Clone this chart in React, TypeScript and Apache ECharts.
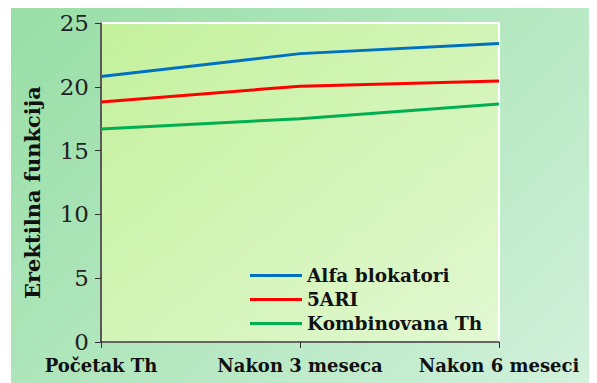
import React, { useEffect, useRef } from "react";
import * as echarts from "echarts";

const categories = ["Početak Th", "Nakon 3 meseca", "Nakon 6 meseci"];
const alfaBlokatori = [20.8, 22.6, 23.4];
const ari5 = [18.8, 20.05, 20.45];
const kombinovana = [16.7, 17.5, 18.65];
const yTicks = [0, 5, 10, 15, 20, 25];

const FONT = "'DejaVu Serif', 'Liberation Serif', serif";

export default function App() {
  const ref = useRef<HTMLDivElement>(null);
  useEffect(() => {
    if (!ref.current) return;
    const chart = echarts.init(ref.current, undefined, { renderer: "svg" });
    chart.setOption({
      animation: false,
      grid: {
        left: 90,
        right: 98,
        top: 15,
        bottom: 41,
        show: true,
        backgroundColor: new echarts.graphic.LinearGradient(0, 0, 1, 1, [
          { offset: 0, color: "#c4f19c" },
          { offset: 1, color: "#e2f8d2" },
        ]),
        borderColor: "#ffffff",
        borderWidth: 2,
      },
      legend: {
        orient: "vertical",
        left: 234,
        top: 253,
        itemWidth: 52,
        itemHeight: 3,
        itemGap: 5,
        icon: "rect",
        textStyle: { fontFamily: FONT, fontWeight: "bold", fontSize: 18.5, color: "#111" },
        data: ["Alfa blokatori", "5ARI", "Kombinovana Th"],
      },
      xAxis: {
        type: "category",
        data: categories,
        boundaryGap: false,
        axisLine: { lineStyle: { color: "#333", width: 1.5 } },
        axisTick: { show: true, length: 6, interval: 0, lineStyle: { color: "#333" } },
        axisLabel: {
          interval: 0,
          hideOverlap: false,
          margin: 14,
          fontFamily: FONT,
          fontWeight: "bold",
          fontSize: 18,
          color: "#111",
        },
        splitLine: { show: false },
      },
      yAxis: {
        type: "value",
        min: yTicks[0],
        max: yTicks[yTicks.length - 1],
        interval: 5,
        name: "Erektilna funkcija",
        nameLocation: "middle",
        nameGap: 58,
        nameTextStyle: {
          fontFamily: FONT,
          fontWeight: "bold",
          fontSize: 21,
          color: "#111",
          padding: [0, 20, 0, 0],
        },
        axisLine: { show: true, lineStyle: { color: "#222", width: 1.5 } },
        axisTick: { show: true, length: 6, lineStyle: { color: "#333" } },
        axisLabel: { margin: 12, fontFamily: FONT, fontSize: 23, color: "#222" },
        splitLine: { show: false },
      },
      series: [
        {
          name: "Alfa blokatori",
          type: "line",
          data: alfaBlokatori,
          symbol: "none",
          lineStyle: { color: "#0070c0", width: 3 },
          itemStyle: { color: "#0070c0" },
        },
        {
          name: "5ARI",
          type: "line",
          data: ari5,
          symbol: "none",
          lineStyle: { color: "#ff0000", width: 3 },
          itemStyle: { color: "#ff0000" },
        },
        {
          name: "Kombinovana Th",
          type: "line",
          data: kombinovana,
          symbol: "none",
          lineStyle: { color: "#00b050", width: 3 },
          itemStyle: { color: "#00b050" },
        },
      ],
    });
    return () => chart.dispose();
  }, []);
  return (
    <div style={{ paddingLeft: 3, width: 586 }}>
      <div
        ref={ref}
        style={{
          width: 586,
          height: 375,
          background: "linear-gradient(135deg, #98dea6 0%, #b6e8c2 55%, #d2f1dc 100%)",
        }}
      />
    </div>
  );
}
